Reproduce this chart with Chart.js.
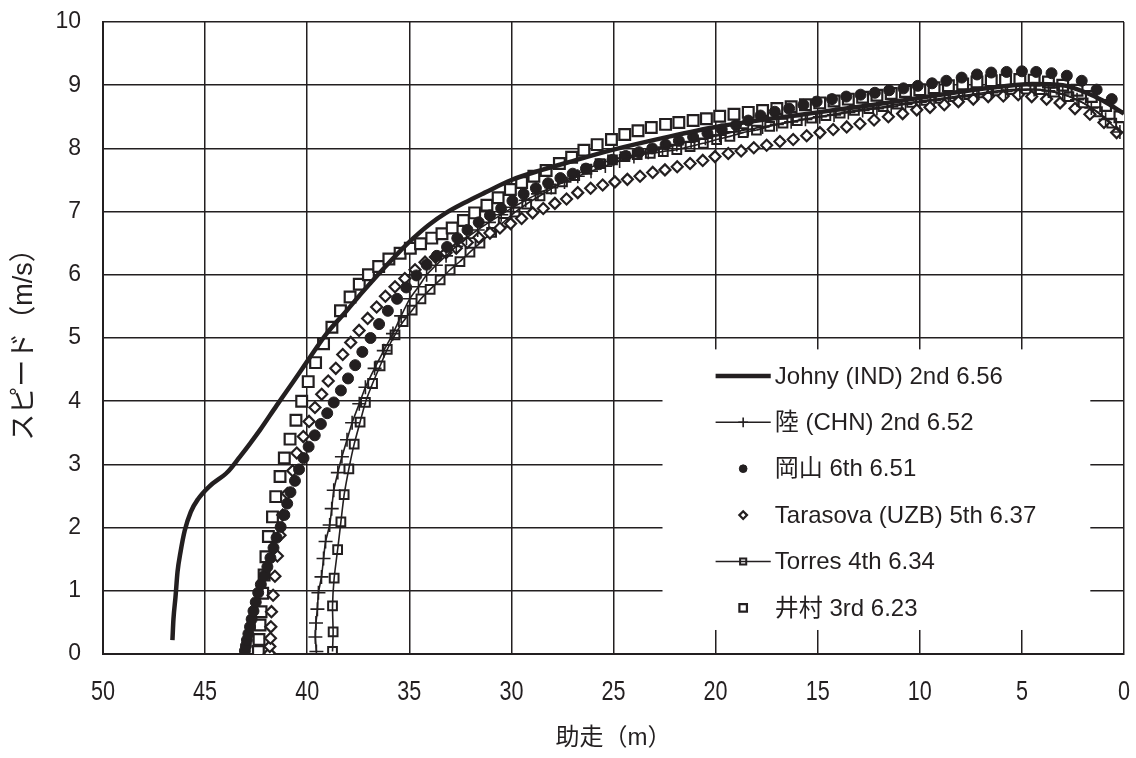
<!DOCTYPE html>
<html>
<head>
<meta charset="utf-8">
<script src="https://cdn.jsdelivr.net/npm/chart.js@4.4.1/dist/chart.umd.min.js"></script>
<style>
  html, body { margin: 0; padding: 0; background: #fff; }
  canvas { display: block; }
</style>
</head>
<body>
<canvas id="speedChart" width="1136" height="758"></canvas>
<script>
// run-up distance to board (m) and speed (m/s) for each jumper
const johnyX = [46.6, 46.55, 46.45, 46.35, 46.2, 46.0, 45.7, 45.35, 44.8, 43.9, 43.3, 42.8, 42.3, 41.5, 40.7, 40.0, 39.05, 38.1, 37.5, 36.9, 36.2, 35.5, 34.8, 34.0, 33.2, 32.3, 31.3, 30.0, 28.5, 27.0, 25.0, 22.5, 20.0, 17.5, 15.0, 12.5, 10.0, 7.5, 6.0, 4.5, 3.0, 2.0, 1.0, 0];
const johnyY = [0.22, 0.55, 0.9, 1.3, 1.62, 1.95, 2.25, 2.45, 2.65, 2.88, 3.12, 3.33, 3.55, 3.93, 4.3, 4.63, 5.07, 5.42, 5.65, 5.87, 6.12, 6.36, 6.58, 6.8, 6.98, 7.14, 7.3, 7.5, 7.66, 7.8, 7.98, 8.17, 8.34, 8.46, 8.57, 8.68, 8.8, 8.92, 8.98, 9.02, 9.0, 8.9, 8.75, 8.55];

const rikuX = [39.55, 39.6, 39.57, 39.5, 39.45, 39.3, 39.2, 39.1, 38.9, 38.8, 38.7, 38.5, 38.3, 38.05, 37.8, 37.45, 37.15, 36.7, 36.25, 35.8, 35.4, 34.98, 34.55, 34.15, 33.7, 33.2, 32.7, 32.2, 31.65, 31.1, 30.5, 29.9, 29.3, 28.7, 28.05, 27.4, 26.75, 26.1, 25.4, 24.7, 24.0, 23.3, 22.6, 21.9, 21.2, 20.5, 19.8, 19.1, 18.4, 17.7, 17.0, 16.3, 15.6, 14.9, 14.2, 13.5, 12.8, 12.1, 11.4, 10.7, 10.0, 9.3, 8.6, 7.9, 7.2, 6.5, 5.8, 5.1, 4.4, 3.7, 3.0, 2.3, 1.6, 0.9, 0.2];
const rikuY = [0.04, 0.27, 0.49, 0.71, 0.97, 1.22, 1.51, 1.78, 2.04, 2.3, 2.59, 2.87, 3.12, 3.39, 3.66, 3.96, 4.22, 4.52, 4.8, 5.07, 5.35, 5.62, 5.81, 6.0, 6.15, 6.3, 6.45, 6.58, 6.71, 6.83, 6.95, 7.07, 7.18, 7.28, 7.38, 7.47, 7.56, 7.64, 7.72, 7.8, 7.87, 7.94, 8.0, 8.06, 8.11, 8.16, 8.21, 8.26, 8.3, 8.34, 8.38, 8.42, 8.46, 8.5, 8.53, 8.57, 8.6, 8.63, 8.66, 8.7, 8.73, 8.76, 8.79, 8.82, 8.85, 8.88, 8.9, 8.92, 8.93, 8.91, 8.86, 8.77, 8.64, 8.46, 8.26];

const okayamaX = [43.05, 43.0, 42.95, 42.88, 42.8, 42.72, 42.63, 42.52, 42.4, 42.27, 42.1, 41.95, 41.8, 41.65, 41.5, 41.3, 41.12, 40.98, 40.82, 40.6, 40.4, 40.18, 39.93, 39.63, 39.33, 39.02, 38.7, 38.35, 38.0, 37.65, 37.3, 36.9, 36.48, 36.05, 35.6, 35.15, 34.65, 34.15, 33.65, 33.15, 32.65, 32.15, 31.6, 31.05, 30.5, 29.95, 29.4, 28.8, 28.2, 27.6, 27.0, 26.35, 25.7, 25.05, 24.4, 23.75, 23.1, 22.45, 21.8, 21.1, 20.4, 19.7, 19.0, 18.4, 17.8, 17.1, 16.4, 15.7, 15.05, 14.3, 13.6, 12.9, 12.2, 11.5, 10.8, 10.1, 9.4, 8.7, 7.95, 7.2, 6.5, 5.75, 5.0, 4.3, 3.55, 2.8, 2.07, 1.34, 0.6];
const okayamaY = [0.05, 0.13, 0.22, 0.32, 0.43, 0.55, 0.68, 0.82, 0.97, 1.1, 1.24, 1.38, 1.52, 1.68, 1.84, 2.01, 2.2, 2.38, 2.56, 2.74, 2.92, 3.1, 3.28, 3.46, 3.64, 3.81, 3.98, 4.17, 4.36, 4.57, 4.78, 5.0, 5.22, 5.43, 5.62, 5.8, 5.99, 6.16, 6.3, 6.44, 6.58, 6.71, 6.83, 6.94, 7.05, 7.17, 7.28, 7.37, 7.45, 7.53, 7.6, 7.68, 7.75, 7.82, 7.88, 7.94, 8.0, 8.06, 8.12, 8.18, 8.24, 8.3, 8.37, 8.44, 8.52, 8.58, 8.63, 8.69, 8.74, 8.78, 8.82, 8.85, 8.88, 8.92, 8.95, 8.99, 9.03, 9.07, 9.12, 9.17, 9.2, 9.21, 9.22, 9.21, 9.19, 9.15, 9.07, 8.93, 8.78];

const tarasovaX = [41.85, 41.83, 41.8, 41.78, 41.75, 41.67, 41.58, 41.46, 41.33, 41.2, 40.97, 40.71, 40.51, 40.19, 39.91, 39.62, 39.29, 38.97, 38.6, 38.26, 37.87, 37.46, 37.04, 36.6, 36.17, 35.7, 35.22, 34.72, 34.23, 33.72, 33.2, 32.7, 32.16, 31.6, 31.05, 30.56, 30.04, 29.5, 28.96, 28.44, 27.87, 27.3, 26.75, 26.12, 25.53, 24.93, 24.32, 23.7, 23.08, 22.48, 21.88, 21.25, 20.63, 20.03, 19.38, 18.75, 18.13, 17.5, 16.85, 16.2, 15.54, 14.89, 14.24, 13.58, 12.93, 12.24, 11.54, 10.84, 10.15, 9.5, 8.8, 8.11, 7.38, 6.65, 5.91, 5.18, 4.52, 3.79, 3.13, 2.4, 1.67, 0.98, 0.36];
const tarasovaY = [0.01, 0.12, 0.25, 0.43, 0.67, 0.93, 1.23, 1.55, 1.88, 2.2, 2.54, 2.9, 3.18, 3.44, 3.68, 3.9, 4.11, 4.32, 4.52, 4.74, 4.93, 5.12, 5.31, 5.49, 5.66, 5.81, 5.94, 6.08, 6.2, 6.28, 6.35, 6.42, 6.51, 6.59, 6.66, 6.74, 6.81, 6.89, 6.98, 7.05, 7.13, 7.2, 7.3, 7.37, 7.42, 7.47, 7.51, 7.56, 7.62, 7.66, 7.71, 7.76, 7.81, 7.87, 7.92, 7.96, 8.01, 8.05, 8.11, 8.14, 8.2, 8.25, 8.3, 8.34, 8.39, 8.45, 8.5, 8.55, 8.61, 8.65, 8.69, 8.74, 8.78, 8.82, 8.83, 8.85, 8.82, 8.78, 8.72, 8.63, 8.54, 8.41, 8.25];

const torresX = [38.76, 38.73, 38.76, 38.68, 38.51, 38.35, 38.19, 37.96, 37.7, 37.41, 37.15, 36.8, 36.43, 36.08, 35.7, 35.3, 34.86, 34.43, 33.98, 33.49, 33.0, 32.52, 32.03, 31.54, 30.97, 30.4, 29.82, 29.25, 28.6, 28.05, 27.5, 26.9, 26.3, 25.66, 25.05, 24.44, 23.84, 23.2, 22.56, 21.9, 21.25, 20.6, 19.95, 19.3, 18.65, 18.0, 17.35, 16.7, 16.0, 15.3, 14.6, 13.9, 13.2, 12.5, 11.8, 11.1, 10.4, 9.7, 9.0, 8.3, 7.6, 6.9, 6.2, 5.5, 4.8, 4.1, 3.4, 2.7, 2.0, 1.3, 0.6];
const torresY = [0.04, 0.35, 0.76, 1.2, 1.65, 2.09, 2.52, 2.93, 3.32, 3.67, 3.98, 4.28, 4.56, 4.82, 5.05, 5.26, 5.44, 5.62, 5.77, 5.92, 6.08, 6.21, 6.36, 6.5, 6.67, 6.83, 6.99, 7.12, 7.25, 7.36, 7.47, 7.57, 7.67, 7.76, 7.82, 7.87, 7.9, 7.92, 7.95, 7.98, 8.03, 8.08, 8.14, 8.19, 8.25, 8.29, 8.35, 8.4, 8.44, 8.48, 8.52, 8.56, 8.6, 8.63, 8.66, 8.7, 8.73, 8.76, 8.79, 8.82, 8.85, 8.88, 8.91, 8.93, 8.94, 8.93, 8.89, 8.82, 8.72, 8.58, 8.4];

const imuraX = [42.39, 42.36, 42.31, 42.26, 42.18, 42.11, 42.02, 41.9, 41.7, 41.54, 41.33, 41.12, 40.84, 40.55, 40.27, 39.95, 39.59, 39.2, 38.79, 38.37, 37.9, 37.45, 37.0, 36.5, 36.0, 35.45, 34.95, 34.45, 33.9, 33.4, 32.9, 32.35, 31.8, 31.2, 30.65, 30.05, 29.5, 28.9, 28.3, 27.65, 27.05, 26.45, 25.8, 25.1, 24.45, 23.8, 23.15, 22.45, 21.8, 21.1, 20.45, 19.8, 19.1, 18.4, 17.7, 17.0, 16.3, 15.6, 14.9, 14.2, 13.5, 12.8, 12.1, 11.4, 10.7, 10.0, 9.3, 8.6, 7.9, 7.2, 6.5, 5.8, 5.1, 4.4, 3.7, 3.0, 2.3, 1.6, 0.9, 0.2];
const imuraY = [0.04, 0.23, 0.46, 0.67, 0.96, 1.25, 1.54, 1.86, 2.17, 2.49, 2.81, 3.1, 3.4, 3.7, 4.0, 4.31, 4.61, 4.91, 5.17, 5.43, 5.65, 5.85, 6.0, 6.13, 6.25, 6.34, 6.42, 6.49, 6.58, 6.65, 6.74, 6.86, 6.98, 7.1, 7.22, 7.35, 7.46, 7.56, 7.65, 7.76, 7.86, 7.97, 8.06, 8.14, 8.22, 8.28, 8.33, 8.38, 8.41, 8.44, 8.47, 8.51, 8.54, 8.57, 8.6, 8.63, 8.66, 8.69, 8.72, 8.75, 8.78, 8.81, 8.84, 8.87, 8.9, 8.93, 8.96, 8.99, 9.02, 9.05, 9.07, 9.08, 9.09, 9.08, 9.05, 9.0, 8.92, 8.82, 8.68, 8.5];

const seriesNames = ['Johny (IND) 2nd 6.56', '陸 (CHN) 2nd 6.52', '岡山 6th 6.51', 'Tarasova (UZB) 5th 6.37', 'Torres 4th 6.34', '井村 3rd 6.23'];
const xTicks = [0, 5, 10, 15, 20, 25, 30, 35, 40, 45, 50];
const yTicks = [0, 1, 2, 3, 4, 5, 6, 7, 8, 9, 10];

const ink = '#231f20';
const latin = '"Liberation Sans", Arial, "Noto Sans CJK JP", sans-serif';

function toPoints(xs, ys) {
  return xs.map((x, i) => ({ x: x, y: ys[i] }));
}

// legend drawn inside the plot on a white panel (it hides the grid behind it)
const legendPanel = {
  id: 'legendPanel',
  beforeDatasetsDraw(chart) {
    const c = chart.ctx;
    const xs = chart.scales.x, ys = chart.scales.y;
    const left = xs.getPixelForValue(22.6), right = xs.getPixelForValue(1.65);
    const top = ys.getPixelForValue(4.82), bottom = ys.getPixelForValue(0.38);
    c.save();
    c.fillStyle = '#fff';
    c.fillRect(left, top, right - left, bottom - top);

    const x0 = xs.getPixelForValue(20.0), x1 = xs.getPixelForValue(17.3);
    const xm = (x0 + x1) / 2;
    const textX = xs.getPixelForValue(17.1);
    const rowTop = ys.getPixelForValue(4.4);
    const rowGap = 46.4;
    chart.data.datasets.forEach((ds, i) => {
      const y = rowTop + i * rowGap;
      c.strokeStyle = ink;
      if (ds.showLine) {
        c.lineWidth = ds.borderWidth;
        c.beginPath();
        c.moveTo(x0, y);
        c.lineTo(x1, y);
        c.stroke();
      }
      if (ds.pointRadius > 0) {
        c.fillStyle = ds.pointBackgroundColor;
        c.lineWidth = ds.pointBorderWidth;
        Chart.helpers.drawPoint(c, {
          pointStyle: ds.pointStyle,
          radius: ds.pointRadius * 0.7,
          borderWidth: ds.pointBorderWidth,
          rotation: 0
        }, xm, y);
      }
      c.fillStyle = ink;
      c.font = '24px ' + latin;
      c.textAlign = 'left';
      c.textBaseline = 'middle';
      c.fillText(ds.label, textX, y + 1);
    });
    c.restore();
  }
};

// x tick labels are set in a condensed face in the original; squeeze them horizontally
const narrowXLabels = {
  id: 'narrowXLabels',
  afterDraw(chart) {
    const c = chart.ctx;
    const xs = chart.scales.x;
    c.save();
    c.fillStyle = ink;
    c.font = '27px ' + latin;
    c.textAlign = 'center';
    c.textBaseline = 'middle';
    xTicks.forEach(v => {
      c.save();
      c.translate(xs.getPixelForValue(v), xs.top + 39);
      c.scale(0.8, 1);
      c.fillText(String(v), 0, 0);
      c.restore();
    });
    c.restore();
  }
};

const ctx = document.getElementById('speedChart').getContext('2d');

const chart = new Chart(ctx, {
  type: 'scatter',
  data: {
    datasets: [
      {
        label: seriesNames[0],
        data: toPoints(johnyX, johnyY),
        showLine: true,
        borderColor: ink,
        borderWidth: 4.5,
        pointRadius: 0,
        cubicInterpolationMode: 'monotone'
      },
      {
        label: seriesNames[1],
        data: toPoints(rikuX, rikuY),
        showLine: true,
        borderColor: ink,
        borderWidth: 1.6,
        tension: 0.2,
        pointStyle: 'cross',
        pointRadius: 7,
        pointBorderWidth: 1.6,
        pointBackgroundColor: ink,
        pointBorderColor: ink
      },
      {
        label: seriesNames[2],
        data: toPoints(okayamaX, okayamaY),
        showLine: false,
        pointStyle: 'circle',
        pointRadius: 5.5,
        pointBorderWidth: 1,
        pointBackgroundColor: ink,
        pointBorderColor: ink
      },
      {
        label: seriesNames[3],
        data: toPoints(tarasovaX, tarasovaY),
        showLine: false,
        pointStyle: 'rectRot',
        pointRadius: 5.5,
        pointBorderWidth: 2.2,
        pointBackgroundColor: '#fff',
        pointBorderColor: ink
      },
      {
        label: seriesNames[4],
        data: toPoints(torresX, torresY),
        showLine: true,
        borderColor: ink,
        borderWidth: 1.6,
        tension: 0.2,
        pointStyle: 'rect',
        pointRadius: 6.2,
        pointBorderWidth: 2,
        pointBackgroundColor: 'rgba(255,255,255,0)',
        pointBorderColor: ink
      },
      {
        label: seriesNames[5],
        data: toPoints(imuraX, imuraY),
        showLine: false,
        pointStyle: 'rect',
        pointRadius: 7.6,
        pointBorderWidth: 2.2,
        pointBackgroundColor: '#fff',
        pointBorderColor: ink
      }
    ]
  },
  options: {
    responsive: false,
    animation: false,
    layout: { padding: { top: 22, right: 12, left: 0, bottom: 0 } },
    plugins: {
      legend: { display: false },
      tooltip: { enabled: false }
    },
    scales: {
      x: {
        type: 'linear',
        reverse: true,
        min: 0,
        max: 50,
        afterBuildTicks: (scale) => { scale.ticks = xTicks.map(v => ({ value: v })); },
        afterFit: (scale) => {
          scale.height = 104;
          scale.paddingLeft = 0;
          scale.paddingRight = 0;
        },
        ticks: {
          color: 'rgba(0,0,0,0)',
          padding: 25,
          font: { family: latin, size: 23 }
        },
        grid: { color: ink, lineWidth: 1.5, drawTicks: false },
        border: { color: ink, width: 2 },
        title: {
          display: true,
          text: '助走（m）',
          color: ink,
          padding: { top: 10, bottom: 5 },
          font: { family: latin, size: 24 }
        }
      },
      y: {
        min: 0,
        max: 10,
        afterBuildTicks: (scale) => { scale.ticks = yTicks.map(v => ({ value: v })); },
        afterFit: (scale) => {
          scale.width = 103;
          scale.paddingTop = 0;
          scale.paddingBottom = 0;
        },
        ticks: {
          color: ink,
          padding: 22,
          font: { family: latin, size: 23 }
        },
        grid: { color: ink, lineWidth: 1.5, drawTicks: false },
        border: { color: ink, width: 2 },
        title: {
          display: true,
          text: 'スピード（m/s）',
          color: ink,
          padding: { top: 8, bottom: 0 },
          font: { family: latin, size: 27 }
        }
      }
    }
  },
  plugins: [legendPanel, narrowXLabels]
});
</script>
</body>
</html>
